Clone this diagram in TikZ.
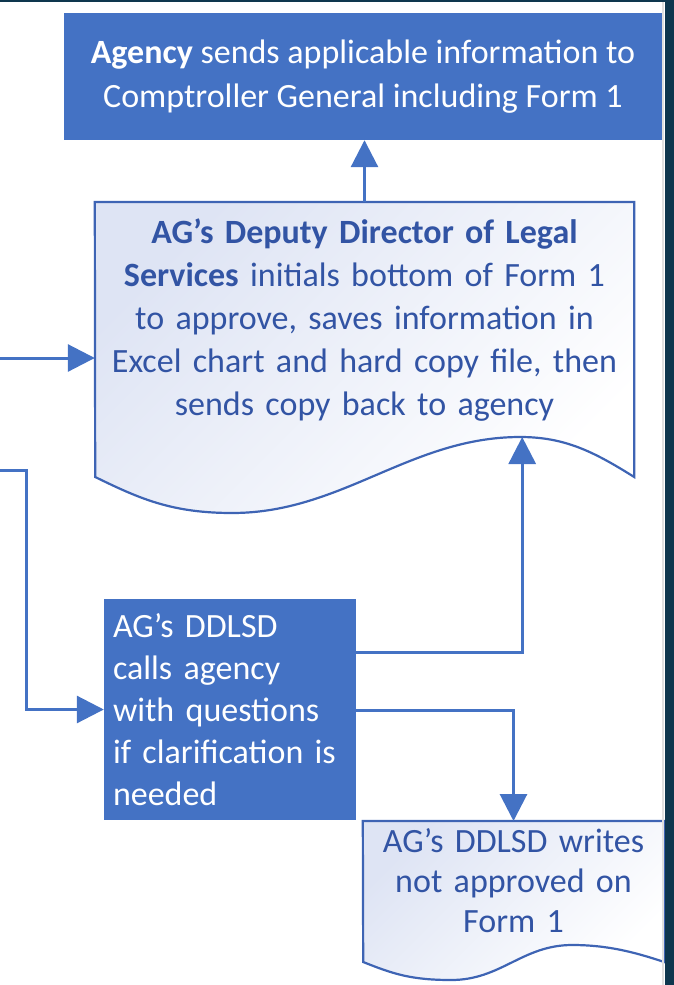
\documentclass[tikz,border=0pt]{standalone}
\usepackage{fontspec}
\setmainfont{Carlito}
\usetikzlibrary{arrows.meta,calc,backgrounds}
\definecolor{ofblue}{RGB}{68,114,196}
\definecolor{ofedge}{RGB}{62,100,180}
\definecolor{oftext}{RGB}{50,84,164}
\definecolor{ofshade}{RGB}{222,228,244}
\definecolor{ofstrip}{RGB}{14,54,78}

\begin{document}
\begin{tikzpicture}[x=1pt, y=-1pt, every node/.style={font=\fontsize{34}{44}\selectfont}]
  \tikzset{
    stepfill/.style={fill=ofblue, text=white, inner sep=0pt},
    doctext/.style={text=oftext, align=center, inner xsep=0pt},
    docline/.style={draw=ofedge, line width=2.2pt, top color=ofshade, bottom color=white, shading angle=45},
    flow/.style={draw=ofblue, line width=3pt, -{Triangle[length=27pt, width=27pt]}}
  }
  \useasboundingbox (0,0) rectangle (674,985);
  \fill[ofstrip] (665,0) rectangle (674,985);
  \fill[ofstrip] (0,0) rectangle (665,1.5);
  \draw[black!12, line width=2pt] (663,2) -- (663,985);

  \node[stepfill, minimum width=598, minimum height=127, align=center] (agency) at (363,76.5)
    {{\bfseries Agency} sends applicable information to\\Comptroller General including Form 1};

  % document shapes: text node first, outline hangs from its top corners
  \node[doctext, anchor=north, minimum width=539, text width=539, inner ysep=17pt,
    font=\fontsize{34}{43}\selectfont] (dir) at (364.5,202)
    {\bfseries AG’s Deputy Director of Legal\\\bfseries Services \mdseries initials bottom of Form 1\\to approve, saves information in\\Excel chart and hard copy file, then\\sends copy back to agency};
  \begin{scope}[on background layer]
    \path[docline] (dir.north west) -- (dir.north east) -- ++(0,275)
      .. controls +(-40,-25) and +(45,0) .. ++(-114,-40)
      .. controls +(-110,0) and +(110,0) .. ++(-288,76)
      .. controls +(-60,0) and +(45,22) .. ++(-137,-36) -- cycle;
  \end{scope}
  \coordinate (dirpeak) at ($(dir.north east)+(-112,235)$);

  \node[stepfill, minimum width=252, minimum height=221, text width=234, inner xsep=9pt, align=left,
    font=\fontsize{34}{42}\selectfont] (calls) at (230,709.5)
    {AG’s DDLSD\\calls agency\\with questions\\if clarification is\\needed};

  \node[doctext, anchor=north, minimum width=301, text width=301, inner ysep=7pt,
    font=\fontsize{34}{40}\selectfont] (writes) at (513.5,821)
    {AG’s DDLSD writes\\not approved on\\Form 1};
  \begin{scope}[on background layer]
    \path[docline] (writes.north west) -- (writes.north east) -- ++(0,141)
      .. controls +(-30,-10) and +(35,0) .. ++(-92,-17)
      .. controls +(-50,0) and +(50,0) .. ++(-121,35)
      .. controls +(-40,0) and +(30,12) .. ++(-88,-18) -- cycle;
  \end{scope}

  \coordinate (inA) at (0,358);
  \coordinate (inB) at (0,470);
  \coordinate (bendB) at (26,470);

  \draw[flow] (dir.north) -- (dir.north |- agency.south);
  \draw[flow] (inA) -- (inA -| dir.west);
  \draw[flow] (inB) -- (bendB) |- (calls.west);
  \draw[flow] ([yshift=57pt]calls.east) -| (dirpeak);
  \draw[flow] ([yshift=-1pt]calls.east) -| (writes.north);
\end{tikzpicture}
\end{document}
